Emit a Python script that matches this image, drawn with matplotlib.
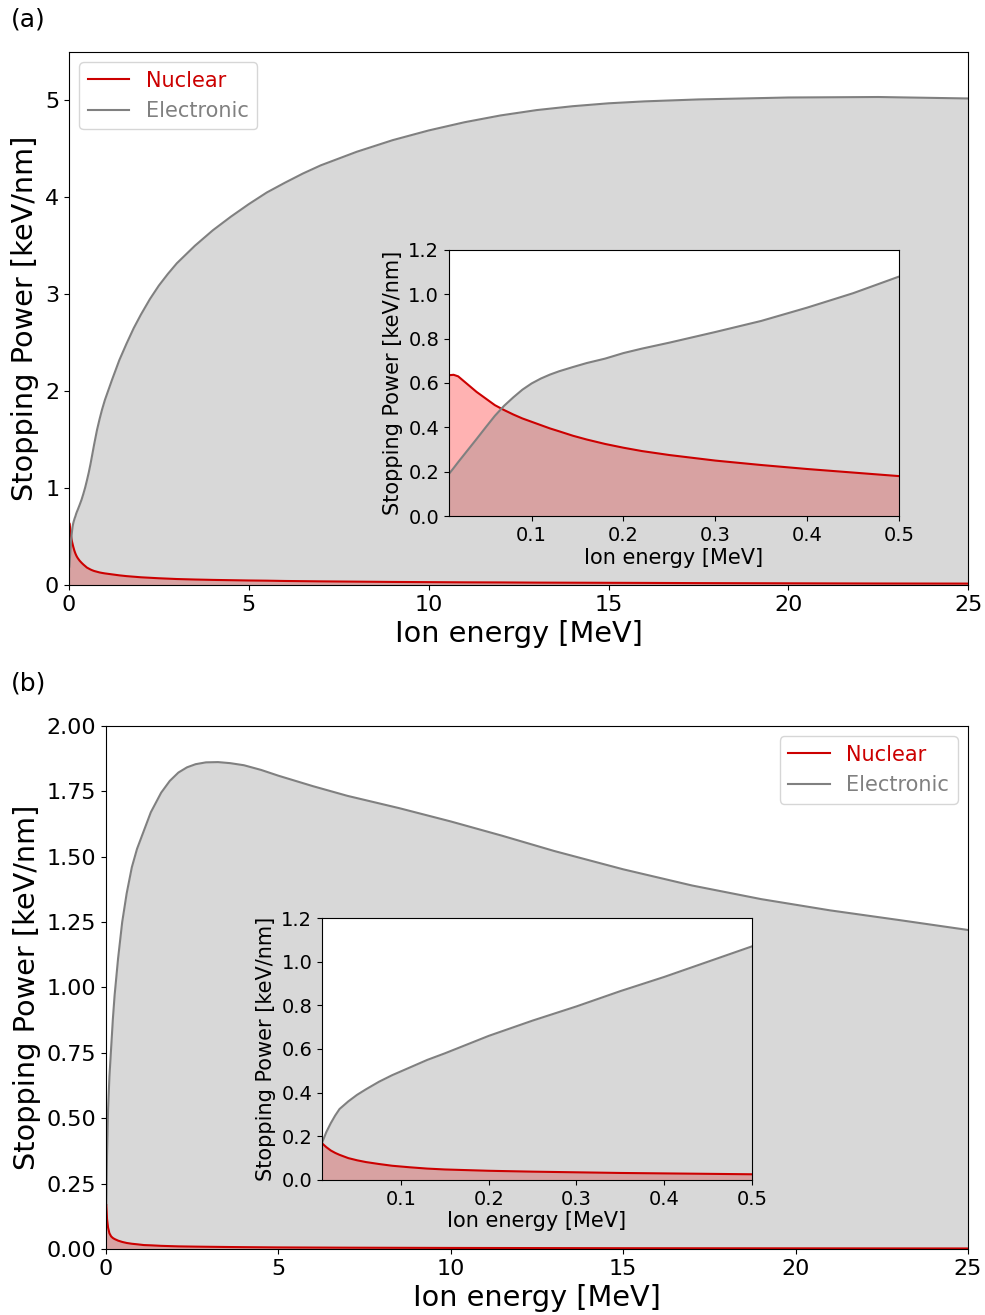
import matplotlib
matplotlib.use("Agg")
import matplotlib.pyplot as plt

# panel (a) data, MeV vs keV/nm
energy_a = [0.01, 0.015, 0.02, 0.03, 0.04, 0.05, 0.06, 0.07, 0.08, 0.09, 0.1, 0.11, 0.12, 0.13,
            0.145, 0.16, 0.18, 0.2, 0.22, 0.25, 0.3, 0.35, 0.4, 0.45, 0.5, 0.55, 0.6, 0.65, 0.7,
            0.78, 0.85, 0.92, 1.0, 1.2, 1.4, 1.6, 1.8, 2.0, 2.25, 2.5, 2.75, 3.0, 3.5, 4.0, 4.5,
            5.0, 5.5, 6.0, 6.5, 7.0, 8.0, 9.0, 10.0, 11.0, 12.0, 13.0, 14.0, 15.0, 16.0, 17.5,
            20.0, 22.5, 25.0]
electronic_a = [0.19, 0.216, 0.243, 0.295, 0.347, 0.40, 0.452, 0.497, 0.535, 0.57, 0.598, 0.62, 0.638,
                0.653, 0.672, 0.69, 0.71, 0.735, 0.755, 0.782, 0.83, 0.88, 0.94, 1.005, 1.08, 1.16,
                1.25, 1.35, 1.45, 1.60, 1.71, 1.81, 1.91, 2.12, 2.32, 2.49, 2.65, 2.79, 2.95, 3.09,
                3.21, 3.32, 3.50, 3.66, 3.80, 3.93, 4.05, 4.15, 4.245, 4.33, 4.47, 4.59, 4.69, 4.775,
                4.845, 4.90, 4.94, 4.97, 4.99, 5.01, 5.03, 5.035, 5.02]
nuclear_a = [0.635, 0.637, 0.63, 0.595, 0.56, 0.53, 0.50, 0.478, 0.458, 0.44, 0.425, 0.41, 0.395,
             0.382, 0.362, 0.345, 0.325, 0.308, 0.293, 0.275, 0.25, 0.23, 0.212, 0.196, 0.18, 0.17,
             0.16, 0.152, 0.145, 0.137, 0.13, 0.125, 0.12, 0.11, 0.10, 0.092, 0.086, 0.08, 0.075,
             0.07, 0.066, 0.062, 0.057, 0.053, 0.05, 0.047, 0.045, 0.042, 0.04, 0.038, 0.035,
             0.032, 0.03, 0.028, 0.027, 0.025, 0.024, 0.023, 0.022, 0.02, 0.018, 0.016, 0.015]

# panel (b) main curve
energy_b = [0.01, 0.03, 0.06, 0.1, 0.15, 0.2, 0.25, 0.35, 0.47, 0.6, 0.75, 0.9, 1.1, 1.3, 1.6,
            1.85, 2.1, 2.35, 2.6, 2.9, 3.25, 3.6, 4.0, 4.5, 5.0, 6.0, 7.0, 8.5, 10.0, 11.5, 13.0,
            15.0, 17.0, 19.0, 21.0, 23.0, 25.0]
electronic_b = [0.17, 0.36, 0.53, 0.66, 0.77, 0.88, 0.97, 1.11, 1.25, 1.36, 1.46, 1.53, 1.60, 1.67,
                1.745, 1.79, 1.822, 1.842, 1.854, 1.861, 1.862, 1.858, 1.85, 1.832, 1.81, 1.77,
                1.733, 1.686, 1.635, 1.58, 1.522, 1.452, 1.39, 1.338, 1.295, 1.258, 1.22]
nuclear_b = [0.168, 0.115, 0.082, 0.06, 0.048, 0.042, 0.038, 0.032, 0.027, 0.023, 0.02, 0.018,
             0.015, 0.014, 0.012, 0.011, 0.01, 0.0095, 0.009, 0.0085, 0.008, 0.0075, 0.007, 0.0065,
             0.006, 0.0055, 0.005, 0.0045, 0.004, 0.0037, 0.0034, 0.003, 0.0028, 0.0026, 0.0024,
             0.0022, 0.002]

# panel (b) inset, low energies
energy_b_low = [0.01, 0.015, 0.02, 0.025, 0.03, 0.04, 0.05, 0.06, 0.075, 0.09, 0.11, 0.13, 0.15,
                0.175, 0.2, 0.225, 0.25, 0.3, 0.35, 0.4, 0.45, 0.5]
electronic_b_low = [0.17, 0.22, 0.26, 0.295, 0.325, 0.36, 0.39, 0.415, 0.45, 0.48, 0.515, 0.55, 0.58,
                    0.62, 0.66, 0.695, 0.73, 0.795, 0.865, 0.93, 1.0, 1.07]
nuclear_b_low = [0.168, 0.15, 0.135, 0.124, 0.115, 0.10, 0.09, 0.082, 0.073, 0.065, 0.058, 0.052,
                 0.048, 0.045, 0.042, 0.04, 0.038, 0.035, 0.032, 0.03, 0.028, 0.026]

red = '#cc0000'
grey = 'gray'


def draw(ax, e, nuc, ele):
    ax.fill_between(e, nuc, color='red', alpha=0.3, lw=0)
    ax.fill_between(e, ele, color=grey, alpha=0.3, lw=0)
    ax.plot(e, nuc, color=red, lw=1.5, label='Nuclear')
    ax.plot(e, ele, color=grey, lw=1.5, label='Electronic')


def inset_style(ax):
    ax.set_xlim(0.01, 0.5)
    ax.set_ylim(0, 1.2)
    ax.set_xticks([0.1, 0.2, 0.3, 0.4, 0.5])
    ax.set_yticks([0.0, 0.2, 0.4, 0.6, 0.8, 1.0, 1.2])
    ax.tick_params(labelsize=14)
    ax.set_xlabel('Ion energy [MeV]', fontsize=15, labelpad=2)
    ax.set_ylabel('Stopping Power [keV/nm]', fontsize=15)


def legend_style(ax, loc):
    leg = ax.legend(loc=loc, fontsize=15)
    leg.get_texts()[0].set_color(red)
    leg.get_texts()[1].set_color(grey)


fig = plt.figure(figsize=(9.85, 13.15), dpi=100)

# ---- (a) ----
ax1 = fig.add_axes([0.070, 0.5551, 0.913, 0.4054])
draw(ax1, energy_a, nuclear_a, electronic_a)
ax1.set_xlim(0, 25)
ax1.set_ylim(0, 5.5)
ax1.set_xticks([0, 5, 10, 15, 20, 25])
ax1.set_yticks([0, 1, 2, 3, 4, 5])
ax1.tick_params(labelsize=16)
ax1.set_xlabel('Ion energy [MeV]', fontsize=20.7)
ax1.set_ylabel('Stopping Power [keV/nm]', fontsize=20.7)
legend_style(ax1, 'upper left')

in1 = fig.add_axes([0.4558, 0.6076, 0.4569, 0.2023])
draw(in1, energy_a, nuclear_a, electronic_a)
inset_style(in1)

# ---- (b) ----
ax2 = fig.add_axes([0.1076, 0.0502, 0.8751, 0.3977])
draw(ax2, energy_b, nuclear_b, electronic_b)
ax2.set_xlim(0, 25)
ax2.set_ylim(0, 2.0)
ax2.set_xticks([0, 5, 10, 15, 20, 25])
ax2.set_yticks([0, 0.25, 0.5, 0.75, 1.0, 1.25, 1.5, 1.75, 2.0])
ax2.set_yticklabels(['0.00', '0.25', '0.50', '0.75', '1.00', '1.25', '1.50', '1.75', '2.00'])
ax2.tick_params(labelsize=16)
ax2.set_xlabel('Ion energy [MeV]', fontsize=20.7)
ax2.set_ylabel('Stopping Power [keV/nm]', fontsize=20.7)
legend_style(ax2, 'upper right')

in2 = fig.add_axes([0.3269, 0.1027, 0.4365, 0.1992])
draw(in2, energy_b_low, nuclear_b_low, electronic_b_low)
inset_style(in2)

fig.text(0.011, 0.9945, '(a)', fontsize=18, va='top')
fig.text(0.011, 0.4895, '(b)', fontsize=18, va='top')

fig.savefig('out.png', dpi=100)
